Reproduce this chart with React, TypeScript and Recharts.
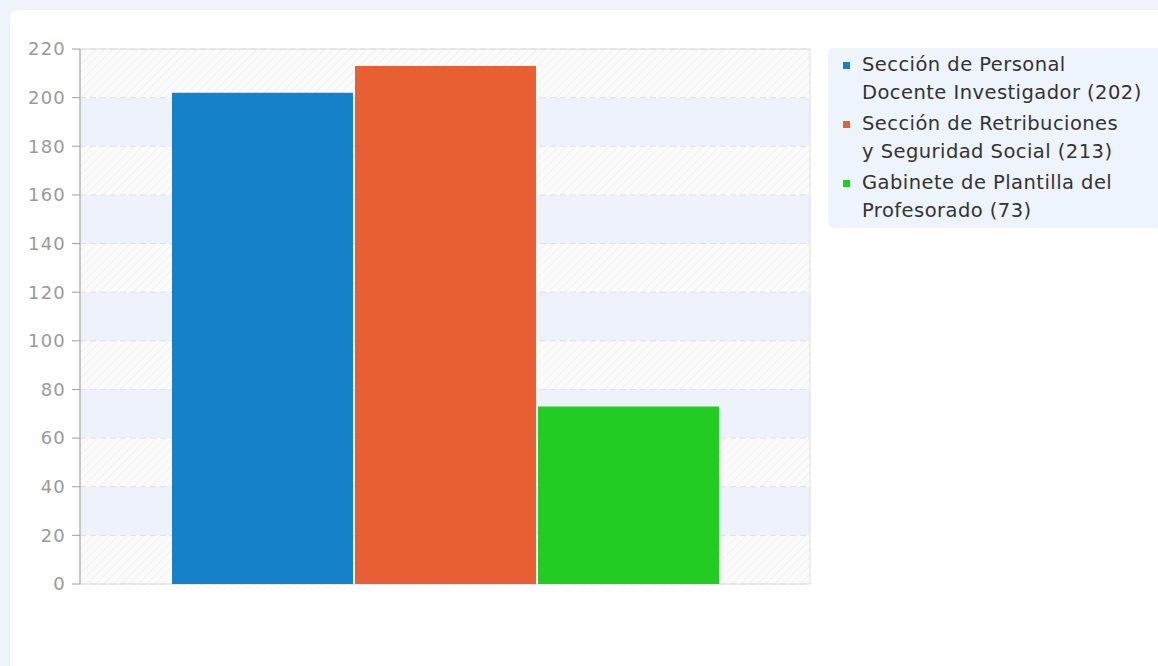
import React from 'react';
import { BarChart, Bar, XAxis, YAxis, CartesianGrid, ReferenceArea } from 'recharts';

const CATEGORIES = [''];
const SERIES_NAMES = [
  'Sección de Personal Docente Investigador',
  'Sección de Retribuciones y Seguridad Social',
  'Gabinete de Plantilla del Profesorado',
];
const SERIES_VALUES = [202, 213, 73];
const SERIES_COLORS = ['#1581c9', '#e75f33', '#22cc22'];
const LEGEND_LINES = [
  ['Sección de Personal', 'Docente Investigador (202)'],
  ['Sección de Retribuciones', 'y Seguridad Social (213)'],
  ['Gabinete de Plantilla del', 'Profesorado (73)'],
];
const Y_TICKS = [0, 20, 40, 60, 80, 100, 120, 140, 160, 180, 200, 220];

const data = CATEGORIES.map((c) => {
  const row: Record<string, string | number> = { name: c };
  SERIES_VALUES.forEach((v, i) => (row['s' + i] = v));
  return row;
});

const FONT = '"DejaVu Sans", sans-serif';

function LegendBox() {
  return (
    <div
      style={{
        position: 'absolute',
        left: 828,
        top: 48,
        width: 340,
        height: 180,
        boxSizing: 'border-box',
        background: '#eef4fc',
        borderRadius: 6,
        padding: '3px 0 0 15px',
        fontFamily: FONT,
        fontSize: 19.5,
        letterSpacing: 0.45,
        color: '#333',
      }}
    >
      {LEGEND_LINES.map((lines, i) => (
        <div key={i} style={{ position: 'relative', paddingLeft: 19, marginBottom: 3 }}>
          <span
            style={{
              position: 'absolute',
              left: 0,
              top: 11,
              width: 7,
              height: 7,
              background: SERIES_COLORS[i],
            }}
          />
          {lines.map((l, j) => (
            <div key={j} style={{ lineHeight: '28px', whiteSpace: 'nowrap' }}>{l}</div>
          ))}
        </div>
      ))}
    </div>
  );
}

export default function App() {
  return (
    <div style={{ position: 'absolute', left: 0, top: 0, width: 1158, height: 666, background: '#eef4fb', overflow: 'hidden' }}>
      <div style={{ position: 'absolute', left: 10, top: 10, width: 1160, height: 670, background: '#fff', borderRadius: 8 }} />
      <div style={{ position: 'absolute', left: 0, top: 0 }}>
        <BarChart
          width={1158}
          height={666}
          data={data}
          margin={{ top: 49, right: 348, bottom: 82, left: 0 }}
          barCategoryGap="12.6%"
          barGap={2}
        >
          <defs>
            <pattern id="hatch" width="6" height="6" patternUnits="userSpaceOnUse" patternTransform="rotate(45)">
              <rect width="6" height="6" fill="#fbfbfb" />
              <line x1="0" y1="0" x2="0" y2="6" stroke="#f1f1f1" strokeWidth="2" />
            </pattern>
          </defs>
          <CartesianGrid
            vertical={false}
            stroke="#e4dde4"
            strokeDasharray="6 4"
            horizontalFill={['url(#hatch)', '#eef3fb']}
            fillOpacity={1}
          />
          <ReferenceArea y1={0} y2={220} fill="none" stroke="#dcdcdc" strokeWidth={1} ifOverflow="visible" />
          <XAxis dataKey="name" tick={false} axisLine={{ stroke: '#a0a0a0' }} tickLine={false} height={0} />
          <YAxis
            width={80}
            domain={[0, 220]}
            ticks={Y_TICKS}
            interval={0}
            axisLine={{ stroke: '#a0a0a0' }}
            tickLine={{ stroke: '#a0a0a0' }}
            tickSize={8}
            tickMargin={6}
            tick={{ fill: '#9a9a9a', fontSize: 18, fontFamily: FONT, letterSpacing: 1.2 }}
          />
          {SERIES_NAMES.map((n, i) => (
            <Bar key={n} dataKey={'s' + i} name={n} fill={SERIES_COLORS[i]} isAnimationActive={false} />
          ))}
        </BarChart>
      </div>
      <LegendBox />
    </div>
  );
}
